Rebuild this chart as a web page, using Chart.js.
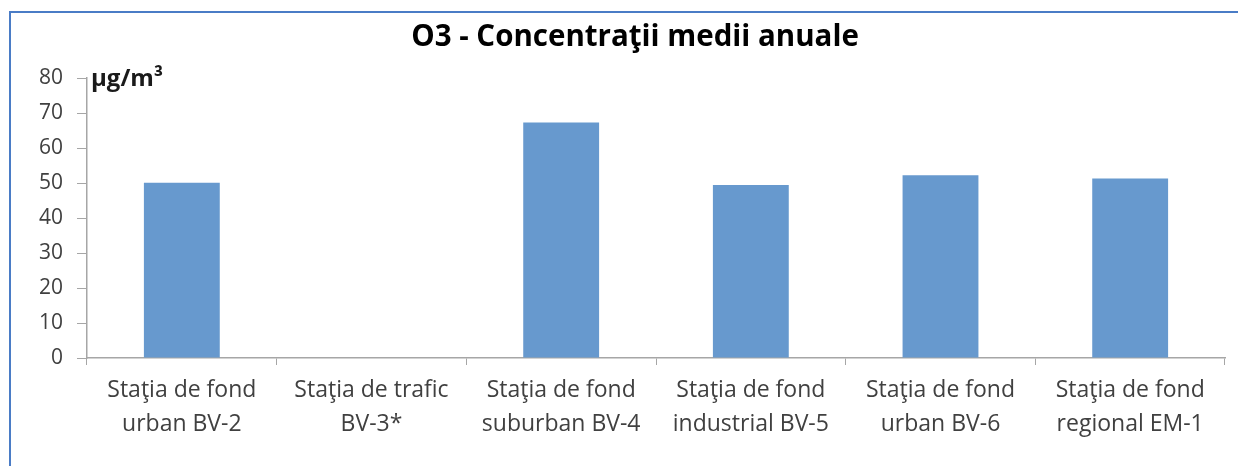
<!DOCTYPE html>
<html>
<head>
<meta charset="utf-8">
<script src="https://cdn.jsdelivr.net/npm/chart.js@4"></script>
<style>
  html, body { margin: 0; padding: 0; background: #fff; overflow: hidden; }
  .frame { position: absolute; left: 9px; top: 11px; width: 1300px; height: 500px; border: 2px solid #4A7CC6; }
  canvas { position: absolute; left: 0; top: 0; }
</style>
</head>
<body>
<div class="frame"></div>
<canvas id="o3Chart" width="1238" height="466"></canvas>
<script>
// Data
const stations = [
    ['Staţia de fond', 'urban BV-2'],
    ['Staţia de trafic', 'BV-3*'],
    ['Staţia de fond', 'suburban BV-4'],
    ['Staţia de fond', 'industrial BV-5'],
    ['Staţia de fond', 'urban BV-6'],
    ['Staţia de fond', 'regional EM-1']
];
const o3Means = [50.1, null, 67.3, 49.4, 52.2, 51.3];
const yTicks = [0, 10, 20, 30, 40, 50, 60, 70, 80];
const chartTitle = 'O3 - Concentraţii medii anuale';
const unitLabel = 'µg/m³';

const fontFamily = '"Open Sans", Lato, sans-serif';
const axisGray = '#A6A6A6';

// title sits a bit right of the canvas centre in the original, so draw it here
// instead of the built-in title box; the unit goes in the plot's top-left corner
const textPlugin = {
    id: 'chartTexts',
    afterDraw(chart) {
        const { ctx, chartArea } = chart;
        ctx.save();
        ctx.fillStyle = '#000';
        ctx.font = 'bold 29.5px ' + fontFamily;
        ctx.textAlign = 'center';
        ctx.textBaseline = 'alphabetic';
        ctx.fillText(chartTitle, 635, 46);

        ctx.font = 'bold 24px ' + fontFamily;
        ctx.fillStyle = '#1a1a1a';
        ctx.textAlign = 'left';
        ctx.textBaseline = 'middle';
        ctx.fillText(unitLabel, chartArea.left + 4, chartArea.top + 1);
        ctx.restore();
    }
};

const ctx = document.getElementById('o3Chart').getContext('2d');
new Chart(ctx, {
    type: 'bar',
    data: {
        labels: stations,
        datasets: [{
            label: 'O3',
            data: o3Means,
            backgroundColor: '#6799CE',
            borderWidth: 0,
            barPercentage: 0.4,
            categoryPercentage: 1
        }]
    },
    options: {
        responsive: false,
        animation: false,
        layout: { padding: { left: 0, right: 13, top: 78, bottom: 0 } },
        plugins: {
            legend: { display: false },
            tooltip: { enabled: false },
            title: { display: false }
        },
        scales: {
            x: {
                grid: { drawOnChartArea: false, color: axisGray, tickLength: 7, offset: true },
                border: { color: axisGray, width: 1.5 },
                ticks: {
                    color: '#404040',
                    font: { family: fontFamily, size: 23, lineHeight: 1.45 },
                    padding: 9,
                    maxRotation: 0
                },
                afterFit(scale) { scale.height = 108; }
            },
            y: {
                min: 0,
                max: 80,
                grid: { drawOnChartArea: false, color: axisGray, tickLength: 10 },
                border: { color: axisGray, width: 1.5 },
                ticks: {
                    color: '#404040',
                    font: { family: fontFamily, size: 21 },
                    padding: 14,
                    stepSize: 10
                },
                afterBuildTicks(scale) { scale.ticks = yTicks.map(v => ({ value: v })); },
                afterFit(scale) { scale.width = 87; }
            }
        }
    },
    plugins: [textPlugin]
});
</script>
</body>
</html>
